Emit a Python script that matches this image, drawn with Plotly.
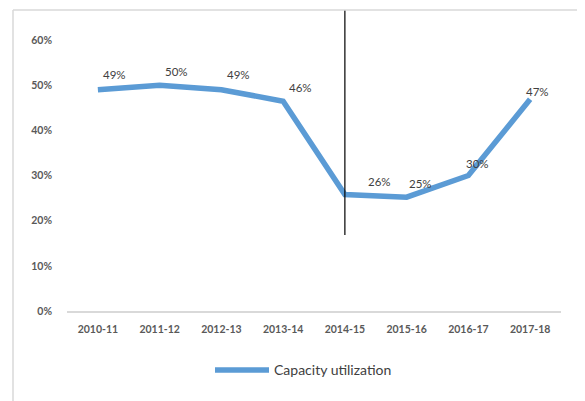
import plotly.graph_objects as go

years = ["2010-11", "2011-12", "2012-13", "2013-14", "2014-15", "2015-16", "2016-17", "2017-18"]
capacity = [0.49, 0.50, 0.49, 0.4645, 0.258, 0.252, 0.30, 0.469]
y_ticks = [0, 0.1, 0.2, 0.3, 0.4, 0.5, 0.6]
marker_year = "2014-15"
marker_span = [0.168, 0.6664]

# label offsets in pixels (style)
label_dx = [17, 17, 17, 17, 35, 14, 9, 7]
label_dy = [15, 14, 15, 14, 13, 14, 12, 8]

fig = go.Figure()
fig.add_trace(go.Scatter(
    x=years, y=capacity, mode="lines", name="Capacity utilization",
    line=dict(color="#5B9BD5", width=5.5), showlegend=False,
))

for x, v, dx, dy in zip(years, capacity, label_dx, label_dy):
    fig.add_annotation(x=x, y=v, xref="x", yref="y", text=f"{round(v*100):.0f}%",
                       showarrow=False, xshift=dx, yshift=dy,
                       font=dict(family="Lato", size=11.5, color="#404040"))

fig.add_shape(type="line", xref="x", yref="y",
              x0=marker_year, x1=marker_year, y0=marker_span[0], y1=marker_span[1],
              line=dict(color="black", width=1.2))

# chart border (top and left)
fig.add_shape(type="line", xref="paper", yref="paper", x0=-0.1093, x1=1.2, y0=1, y1=1,
              line=dict(color="#D9D9D9", width=1.5))
fig.add_shape(type="line", xref="paper", yref="paper", x0=-0.1093, x1=-0.1093, y0=1, y1=-0.4,
              line=dict(color="#D9D9D9", width=1.5))

# legend (manual)
fig.add_shape(type="line", xref="paper", yref="paper", x0=0.2996, x1=0.4089, y0=-0.196, y1=-0.196,
              line=dict(color="#5B9BD5", width=5.5))
fig.add_annotation(xref="paper", yref="paper", x=0.4149, y=-0.196, xanchor="left", yanchor="middle",
                   text="Capacity utilization", showarrow=False,
                   font=dict(family="Lato", size=14, color="#404040"))

fig.update_layout(
    width=577, height=393,
    margin=dict(l=59, r=24, t=2, b=90),
    paper_bgcolor="white", plot_bgcolor="white",
    font=dict(family="Lato", color="#595959"),
    showlegend=False,
    xaxis=dict(type="category", showgrid=False, showline=True, linecolor="#D9D9D9", linewidth=1.5,
               ticks="", tickfont=dict(family="Lato", size=10.5, color="#595959", weight="bold"),
               range=[-0.5, 7.5], fixedrange=True, ticklabelstandoff=8),
    yaxis=dict(showgrid=False, zeroline=False, showline=False, range=[0, 0.6664],
               tickvals=y_ticks, tickformat=".0%", ticks="",
               tickfont=dict(family="Lato", size=10.5, color="#595959", weight="bold"),
               ticklabelstandoff=14),
)

fig.write_html("out.html")
